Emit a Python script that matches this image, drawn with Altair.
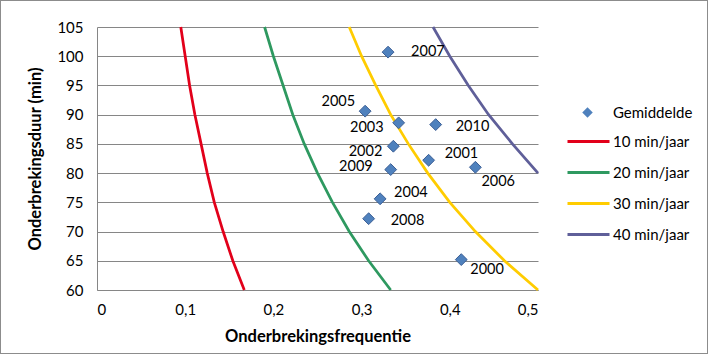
import altair as alt
import pandas as pd

# ---- data ----
years = ["2000", "2001", "2002", "2003", "2004", "2005", "2006", "2007", "2008", "2009", "2010"]
freq = [0.413, 0.376, 0.336, 0.342, 0.321, 0.304, 0.429, 0.330, 0.308, 0.333, 0.384]
dur = [65.2, 82.2, 84.6, 88.6, 75.6, 90.6, 81.0, 100.7, 72.2, 80.6, 88.3]

dur_levels = [60, 65, 70, 75, 80, 85, 90, 95, 100, 105]
x_10 = [0.167, 0.154, 0.143, 0.133, 0.125, 0.118, 0.111, 0.105, 0.100, 0.095]
x_20 = [0.333, 0.308, 0.286, 0.267, 0.250, 0.235, 0.222, 0.211, 0.200, 0.190]
x_30 = [0.500, 0.462, 0.429, 0.400, 0.375, 0.353, 0.333, 0.316, 0.300, 0.286]
dur_40 = [80, 85, 90, 95, 100, 105]
x_40 = [0.500, 0.471, 0.444, 0.421, 0.400, 0.381]

x_ticks = [0, 0.1, 0.2, 0.3, 0.4, 0.5]

series_names = ["10 min/jaar", "20 min/jaar", "30 min/jaar", "40 min/jaar"]
series_colors = ["#E2001A", "#2E9960", "#FFCC00", "#5F5F99"]

# ---- tables ----
pts = pd.DataFrame({"year": years, "freq": freq, "dur": dur, "kind": "Gemiddelde"})
rows = []
for name, xs, ys in [
    (series_names[0], x_10, dur_levels),
    (series_names[1], x_20, dur_levels),
    (series_names[2], x_30, dur_levels),
    (series_names[3], x_40, dur_40),
]:
    for xv, yv in zip(xs, ys):
        rows.append({"serie": name, "freq": xv, "dur": yv})
lines = pd.DataFrame(rows)

FONT = "Lato"
GRAY = "#868686"
TICK_FS = 15
TITLE_FS = 16.5

xenc = alt.X(
    "freq:Q",
    scale=alt.Scale(domain=[0, 0.5], nice=False, zero=False),
    axis=alt.Axis(
        title="Onderbrekingsfrequentie",
        values=x_ticks,
        labelExpr="datum.value == 0 ? '0' : replace(format(datum.value, '.1f'), '.', ',')",
        grid=False,
        ticks=False,
        domainColor=GRAY,
        labelPadding=12,
        titlePadding=11,
        labelFont=FONT,
        labelFontSize=TICK_FS,
        labelColor="#000000",
        titleFont=FONT,
        titleFontSize=TITLE_FS,
        titleFontWeight="bold",
        titleColor="#000000",
        labelOverlap=False,
    ),
)
yenc = alt.Y(
    "dur:Q",
    scale=alt.Scale(domain=[60, 105], nice=False, zero=False),
    axis=alt.Axis(
        title="Onderbrekingsduur (min)",
        values=dur_levels,
        grid=True,
        gridColor=GRAY,
        ticks=False,
        domainColor=GRAY,
        labelPadding=14,
        titlePadding=13,
        labelFont=FONT,
        labelFontSize=TICK_FS,
        labelColor="#000000",
        titleFont=FONT,
        titleFontSize=TITLE_FS,
        titleFontWeight="bold",
        titleColor="#000000",
        labelOverlap=False,
    ),
)

line_layer = alt.Chart(lines).mark_line(strokeWidth=2.75).encode(
    x=xenc,
    y=yenc,
    order="dur:Q",
    color=alt.Color(
        "serie:N",
        scale=alt.Scale(domain=series_names, range=series_colors),
        legend=alt.Legend(
            title=None,
            orient="none",
            legendX=469,
            legendY=92,
            symbolType="stroke",
            symbolSize=1764,
            symbolStrokeWidth=3,
            labelOffset=2,
            rowPadding=-9,
            padding=0,
            labelFont=FONT,
            labelFontSize=15,
            labelColor="#000000",
        ),
    ),
)

pt_layer = alt.Chart(pts).mark_point(
    filled=True, fill="#4F81BD", stroke="#3C5F95", strokeWidth=1, size=140, opacity=1
).encode(
    x=xenc,
    y=yenc,
    shape=alt.Shape(
        "kind:N",
        scale=alt.Scale(domain=["Gemiddelde"], range=["diamond"]),
        legend=alt.Legend(
            title=None,
            orient="none",
            legendX=483,
            legendY=78,
            symbolFillColor="#4F81BD",
            symbolStrokeColor="#3C5F95",
            symbolSize=110,
            labelOffset=18,
            padding=0,
            labelFont=FONT,
            labelFontSize=15,
            labelColor="#000000",
        ),
    ),
)

# label placements (align, dx, dy) per year
label_style = {
    "2007": ("left", 23, 0),
    "2005": ("right", -10, -9),
    "2003": ("right", -15, 5),
    "2010": ("left", 20, 2),
    "2002": ("right", -11, 6),
    "2001": ("left", 16, -6),
    "2006": ("left", 6, 15),
    "2009": ("right", -18, -3),
    "2004": ("left", 14, -6),
    "2008": ("left", 22, 2),
    "2000": ("left", 9, 10),
}
text_layers = []
for yr in years:
    al, dx, dy = label_style[yr]
    text_layers.append(
        alt.Chart(pts)
        .transform_filter(alt.datum.year == yr)
        .mark_text(align=al, dx=dx, dy=dy, font=FONT, fontSize=14.5, color="#000000")
        .encode(x=xenc, y=yenc, text="year:N")
    )

frame = alt.Chart(pts).mark_rect(fill="transparent", stroke="#8C8C8C", strokeWidth=1).encode(
    x=alt.value(-96.5), x2=alt.value(610.5), y=alt.value(-26.5), y2=alt.value(326.5)
)

chart = (
    alt.layer(line_layer, pt_layer, *text_layers, frame)
    .properties(
        width=441,
        height=263,
        autosize=alt.AutoSizeParams(type="none"),
        padding={"left": 97, "top": 27, "right": 170, "bottom": 64},
        background="#FFFFFF",
    )
    .configure_view(stroke=None)
)

chart.save("out.html", embed_options={"renderer": "svg", "actions": False})
